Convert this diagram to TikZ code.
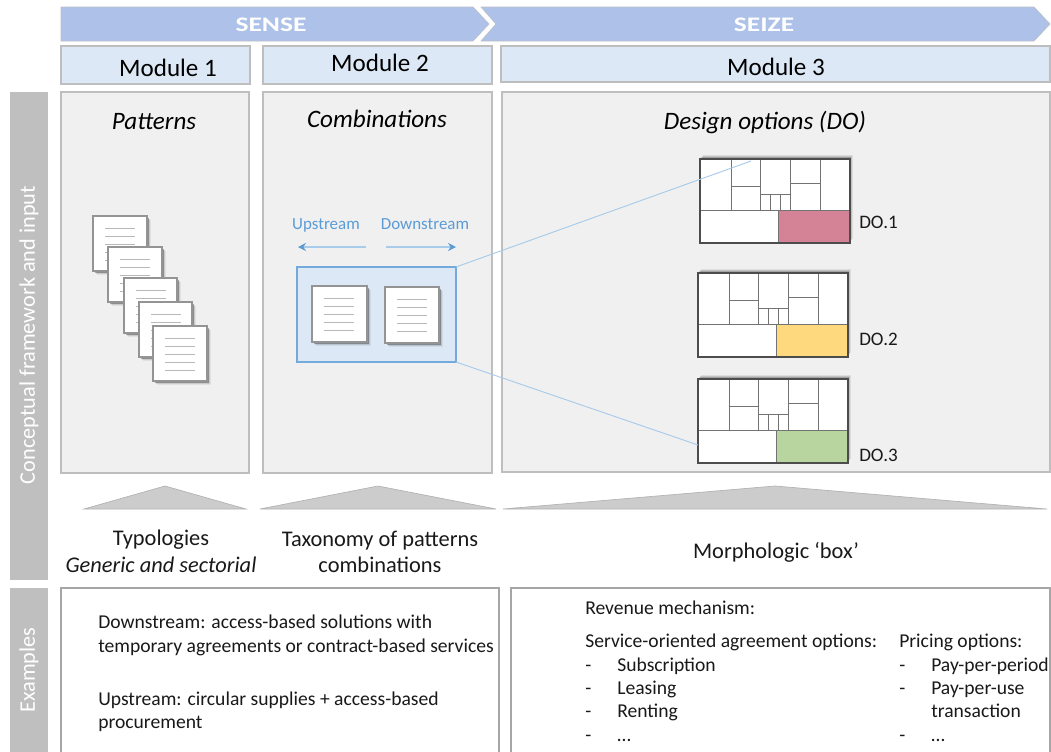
\documentclass[tikz,border=0pt]{standalone}
\usepackage{fontspec}
\setmainfont{Carlito}
\newfontfamily\headfont[FakeStretch=1.33]{Carlito}
\usetikzlibrary{shadows,arrows.meta}
\definecolor{arrowblue}{HTML}{AEC2E9}
\definecolor{modblue}{HTML}{DCE8F5}
\definecolor{panelgray}{HTML}{F0F0F0}
\definecolor{edgegray}{HTML}{BEBEBE}
\definecolor{sidegray}{HTML}{BFBFBF}
\definecolor{trigray}{HTML}{CDCCCD}
\definecolor{lineblue}{HTML}{A9CBEA}
\definecolor{tipblue}{HTML}{5B9BD5}
\definecolor{labelblue}{HTML}{5B9BD5}
\definecolor{dopink}{HTML}{D48296}
\definecolor{doyellow}{HTML}{FFD97D}
\definecolor{dogreen}{HTML}{B8D5A0}
\tikzset{
  px/.style={x=0.75pt,y=-0.75pt},
  rectbox/.style={rectangle,inner sep=0pt,outer sep=0pt},
  chevron/.style={fill=arrowblue,draw=edgegray!80!arrowblue,line width=0.5pt},
  modulebox/.style={rectbox,fill=modblue,draw=edgegray,line width=0.8pt},
  panelbox/.style={rectbox,fill=panelgray,draw=edgegray,line width=0.8pt},
  sidebox/.style={rectbox,fill=sidegray},
  examplebox/.style={rectbox,fill=white,draw=black!35,line width=1.2pt},
  tri/.style={fill=trigray,draw=black!30,line width=0.5pt},
  softshadow/.style={
    general shadow={shadow xshift=3pt,shadow yshift=-3pt,fill=black,opacity=.06},
    general shadow={shadow xshift=2.4pt,shadow yshift=-2.4pt,fill=black,opacity=.10},
    general shadow={shadow xshift=1.8pt,shadow yshift=-1.8pt,fill=black,opacity=.14},
    general shadow={shadow xshift=1.2pt,shadow yshift=-1.2pt,fill=black,opacity=.18}},
  topshadow/.style={
    general shadow={shadow xshift=2.2pt,shadow yshift=3pt,fill=black,opacity=.08},
    general shadow={shadow xshift=1.6pt,shadow yshift=2.2pt,fill=black,opacity=.12},
    general shadow={shadow xshift=1.1pt,shadow yshift=1.5pt,fill=black,opacity=.16},
    general shadow={shadow xshift=.6pt,shadow yshift=.8pt,fill=black,opacity=.2}},
  pagebox/.style={rectbox,fill=white,draw=black!42,line width=0.9pt,softshadow},
  pline/.style={draw=black!28,line width=0.6pt},
  combobox/.style={rectbox,fill=modblue,draw=tipblue!85,line width=1pt},
  zoomline/.style={draw=lineblue,line width=0.7pt},
  flowarrow/.style={draw=lineblue,line width=0.8pt,-{Stealth[length=6pt,width=6pt,color=tipblue]}},
  doframe/.style={rectbox,fill=white,draw=black!70,line width=1.3pt,topshadow},
  dogrid/.style={draw=black!55,line width=0.7pt},
  modtxt/.style={inner sep=0pt,font=\fontsize{18.8}{22}\selectfont,text=black},
  headtxt/.style={inner sep=0pt,font=\headfont\fontsize{15.5}{18}\selectfont\bfseries,text=white},
  paneltxt/.style={inner sep=0pt,font=\fontsize{18.8}{22}\selectfont\itshape},
  bodytxt/.style={inner sep=0pt,font=\fontsize{14.7}{17}\selectfont,text=black!90},
  lowtxt/.style={inner sep=0pt,font=\fontsize{16.8}{20}\selectfont,text=black!90},
  dotxt/.style={inner sep=0pt,font=\fontsize{14.3}{17}\selectfont,text=black!90},
  bluetxt/.style={inner sep=0pt,font=\fontsize{12.7}{15}\selectfont,text=labelblue},
  sidetxt/.style={inner sep=0pt,font=\fontsize{16.7}{20}\selectfont,text=white,rotate=90},
}
% rectangle node from pixel corners
\newcommand{\pxbox}[6]{%
  \pgfmathsetlengthmacro{\pxw}{(#5-#3)*0.75pt}%
  \pgfmathsetlengthmacro{\pxh}{(#6-#4)*0.75pt}%
  \node[#1,minimum width=\pxw,minimum height=\pxh,anchor=north west] (#2) at (#3,#4) {};}
% sheet of paper
\newcommand{\sheet}[5]{%
  \pxbox{pagebox}{#1}{#2}{#3}{#4}{#5}
  \foreach \ly in {12,20,28,36,44}{\draw[pline] ([shift={(12,\ly)}]#1.north west) -- ++(30,0);}}
% design option box
\newcommand{\dooption}[4]{%
  \pgfmathsetmacro{\xr}{#2+150}\pgfmathsetmacro{\yb}{#3+84}%
  \pxbox{doframe}{#1}{#2}{#3}{\xr}{\yb}
  \begin{scope}[shift={(#1.north west)}]
    \fill[#4] (78,51) rectangle (150,84);
    \draw[dogrid] (0,51) -- (150,51) (78,51) -- (78,84);
    \draw[dogrid] (31,0) -- (31,51) (60,0) -- (60,51) (90,0) -- (90,51) (120,0) -- (120,51);
    \draw[dogrid] (31,27) -- (60,27) (60,35) -- (90,35) (70,35) -- (70,51) (80,35) -- (80,51) (90,24) -- (120,24);
    \draw[black!70,line width=1.3pt] (0,0) rectangle (150,84);
  \end{scope}}
\begin{document}
\begin{tikzpicture}[px]
\useasboundingbox (0,0) rectangle (1051,751);
% chevrons
\draw[chevron] (61,7) -- (473,7) -- (489,24) -- (473,41) -- (61,41) -- cycle;
\draw[chevron] (481,7) -- (1034,7) -- (1050,24) -- (1034,41) -- (481,41) -- (496,24) -- cycle;
\node[headtxt,anchor=base] (sense) at (271,31) {SENSE};
\node[headtxt,anchor=base] (seize) at (764,31) {SEIZE};
% modules
\pxbox{modulebox}{m1}{61}{46}{250}{84}
\pxbox{modulebox}{m2}{263}{46}{492}{84}
\pxbox{modulebox}{m3}{501}{46}{1050}{82}
\node[modtxt,anchor=base] (m1t) at (168,76) {Module 1};
\node[modtxt,anchor=base] (m2t) at (380,71) {Module 2};
\node[modtxt,anchor=base] (m3t) at (776,75) {Module 3};
% side bars
\pxbox{sidebox}{sa}{10}{92}{48}{580}
\pxbox{sidebox}{sb}{10}{588}{48}{760}
\node[sidetxt] (sat) at (29,335) {Conceptual framework and input};
\node[sidetxt] (sbt) at (29,670) {Examples};
% panels
\pxbox{panelbox}{p1}{61}{92}{249}{473}
\pxbox{panelbox}{p2}{263}{92}{492}{473}
\pxbox{panelbox}{p3}{502}{92}{1050}{472}
\node[paneltxt,anchor=base] (p1t) at (154,129) {Patterns};
\node[paneltxt,anchor=base] (p2t) at (377,127) {Combinations};
\node[paneltxt,anchor=base] (p3t) at (765,129) {Design options (DO)};
% pattern sheets
\sheet{s1}{93}{216}{147}{271}
\sheet{s2}{108}{247}{162}{302}
\sheet{s3}{124}{278}{177}{333}
\sheet{s4}{139}{302}{192}{357}
\sheet{s5}{153}{326}{207}{381}
% combination
\node[bluetxt,anchor=base] (up) at (326,229) {Upstream};
\node[bluetxt,anchor=base] (down) at (425,229) {Downstream};
\coordinate (upa) at (366,247); \coordinate (upb) at (298,247);
\coordinate (dna) at (386,247); \coordinate (dnb) at (456,247);
\draw[flowarrow] (upa) -- (upb);
\draw[flowarrow] (dna) -- (dnb);
\pxbox{combobox}{combo}{297}{267}{456}{362}
\sheet{ca}{312}{286}{367}{342}
\sheet{cb}{385}{287}{439}{343}
% design options
\dooption{do1}{700}{159}{dopink}
\dooption{do2}{698}{273}{doyellow}
\dooption{do3}{698}{379}{dogreen}
\node[dotxt,anchor=base west] (do1t) at (859,228) {DO.1};
\node[dotxt,anchor=base west] (do2t) at (859,345) {DO.2};
\node[dotxt,anchor=base west] (do3t) at (859,461) {DO.3};
\coordinate (zoomend) at (751,161);
\coordinate (zoomendb) at (698,445);
\draw[zoomline] (combo.north east) -- (zoomend);
\draw[zoomline] (combo.south east) -- (zoomendb);
% triangles
\draw[tri] (84,509) -- (165,486) -- (246,509) -- cycle;
\draw[tri] (260,509) -- (378,486) -- (496,509) -- cycle;
\draw[tri] (503,509) -- (775,486) -- (1047,509) -- cycle;
\node[lowtxt,anchor=base] (l1a) at (161,545) {Typologies};
\node[lowtxt,anchor=base] (l1b) at (161,572) {\itshape Generic and sectorial};
\node[lowtxt,anchor=base] (l2a) at (380,546) {Taxonomy of patterns};
\node[lowtxt,anchor=base] (l2b) at (380,572) {combinations};
\node[lowtxt,anchor=base] (l3) at (776,558) {Morphologic ‘box’};
% example boxes
\pxbox{examplebox}{e1}{61}{588}{499}{770}
\pxbox{examplebox}{e2}{511}{588}{1050}{770}
\node[bodytxt,anchor=base west] (d1) at (98,628) {Downstream: access-based solutions with};
\node[bodytxt,anchor=base west] (d2) at (98,652) {temporary agreements or contract-based services};
\node[bodytxt,anchor=base west] (d3) at (98,705) {Upstream: circular supplies + access-based};
\node[bodytxt,anchor=base west] (d4) at (98,728) {procurement};
\node[bodytxt,anchor=base west] (r0) at (585,614) {Revenue mechanism:};
\node[bodytxt,anchor=base west] (r1) at (585,647) {Service-oriented agreement options:};
\node[bodytxt,anchor=base west] (r2d) at (585,671) {-};
\node[bodytxt,anchor=base west] (r2) at (617,671) {Subscription};
\node[bodytxt,anchor=base west] (r3d) at (585,694) {-};
\node[bodytxt,anchor=base west] (r3) at (617,694) {Leasing};
\node[bodytxt,anchor=base west] (r4d) at (585,717) {-};
\node[bodytxt,anchor=base west] (r4) at (617,717) {Renting};
\node[bodytxt,anchor=base west] (r5d) at (585,741) {-};
\node[bodytxt,anchor=base west] (r5) at (617,741) {…};
\node[bodytxt,anchor=base west] (q1) at (899,647) {Pricing options:};
\node[bodytxt,anchor=base west] (q2d) at (899,671) {-};
\node[bodytxt,anchor=base west] (q2) at (931,671) {Pay-per-period};
\node[bodytxt,anchor=base west] (q3d) at (899,694) {-};
\node[bodytxt,anchor=base west] (q3) at (931,694) {Pay-per-use};
\node[bodytxt,anchor=base west] (q4) at (931,717) {transaction};
\node[bodytxt,anchor=base west] (q5d) at (899,741) {-};
\node[bodytxt,anchor=base west] (q5) at (931,741) {…};
\end{tikzpicture}
\end{document}
